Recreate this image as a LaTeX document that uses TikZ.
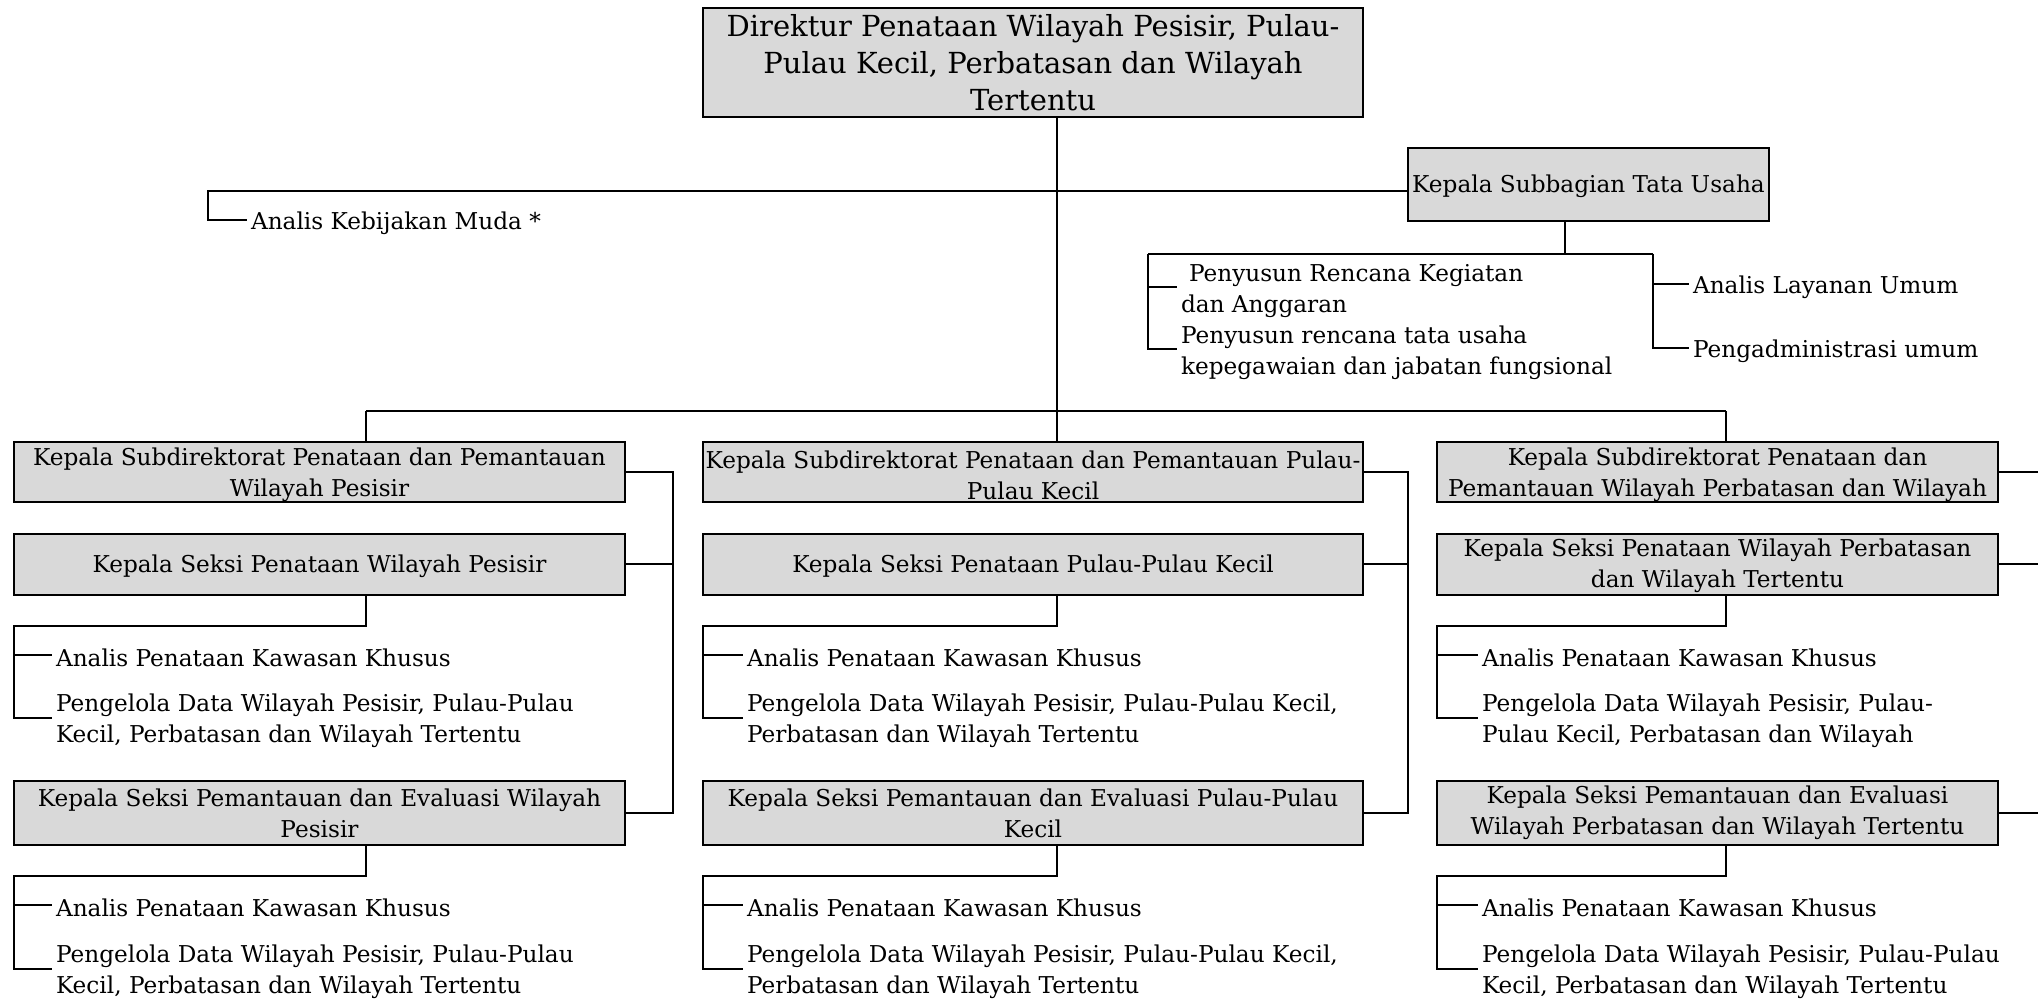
\documentclass[tikz,border=0pt]{standalone}
\usepackage{fontspec}
\setmainfont{DejaVu Serif}
\definecolor{boxgray}{HTML}{D9D9D9}
\newcommand\orgbody{\fontsize{23.2}{31.2}\selectfont}
\newcommand\orgtop{\fontsize{29}{37}\selectfont}
% struts that push the first line down a little (label text / box text)
\newcommand\orgdn{\rule{0pt}{23.6pt}}
\newcommand\orgdnb{\rule{0pt}{21.6pt}}
\begin{document}
\begin{tikzpicture}[x=1pt,y=-1pt,
  every node/.style={inner sep=0pt, outer sep=0pt},
  box/.style={draw, line width=2pt, fill=boxgray, align=center, font=\orgbody},
  lbl/.style={anchor=west, align=left, inner xsep=4pt, font=\orgbody},
  conn/.style={line width=2pt},
  thinconn/.style={line width=1.4pt}]
\useasboundingbox (0,0) rectangle (2038,1000);

% boxes
\node[box, font=\orgtop, minimum width=660pt, minimum height=109pt] (dir) at (1033,62.5)
  {Direktur Penataan Wilayah Pesisir, Pulau-\\Pulau Kecil, Perbatasan dan Wilayah\\Tertentu};
\node[box, minimum width=361pt, minimum height=73pt] (tu) at (1588.5,184.5) {\orgdnb Kepala Subbagian Tata Usaha};

\node[box, minimum width=611pt, minimum height=60pt] (A1) at (319.5,472) {\orgdn Kepala Subdirektorat Penataan dan Pemantauan\\Wilayah Pesisir};
\node[box, minimum width=611pt, minimum height=61pt] (A2) at (319.5,564) {\orgdnb Kepala Seksi Penataan Wilayah Pesisir};
\node[box, minimum width=611pt, minimum height=64pt] (A3) at (319.5,813) {Kepala Seksi Pemantauan dan Evaluasi Wilayah\\Pesisir};

\node[box, minimum width=660pt, minimum height=60pt] (B1) at (1033,472) {\orgdn Kepala Subdirektorat Penataan dan Pemantauan Pulau-\\Pulau Kecil};
\node[box, minimum width=660pt, minimum height=61pt] (B2) at (1033,564) {\orgdnb Kepala Seksi Penataan Pulau-Pulau Kecil};
\node[box, minimum width=660pt, minimum height=64pt] (B3) at (1033,813) {Kepala Seksi Pemantauan dan Evaluasi Pulau-Pulau\\Kecil};

\node[box, minimum width=561pt, minimum height=60pt] (C1) at (1717.5,472) {\orgdn Kepala Subdirektorat Penataan dan\\Pemantauan Wilayah Perbatasan dan Wilayah};
\node[box, minimum width=561pt, minimum height=61pt] (C2) at (1717.5,564) {\orgdnb Kepala Seksi Penataan Wilayah Perbatasan\\dan Wilayah Tertentu};
\node[box, minimum width=561pt, minimum height=64pt] (C3) at (1717.5,813) {Kepala Seksi Pemantauan dan Evaluasi\\Wilayah Perbatasan dan Wilayah Tertentu};

% text labels
\node[lbl] (akm) at (247,220) {\orgdn Analis Kebijakan Muda *};
\node[lbl] (psA) at (1177,287.5) {\orgdn\hspace*{8pt}Penyusun Rencana Kegiatan\\dan Anggaran};
\node[lbl] (psB) at (1177,349.5) {\orgdn Penyusun rencana tata usaha\\kepegawaian dan jabatan fungsional};
\node[lbl] (alu) at (1689,284) {\orgdn Analis Layanan Umum};
\node[lbl] (pu) at (1689,348) {\orgdn Pengadministrasi umum};

\node[lbl] (A2a) at (52,655) {\orgdn Analis Penataan Kawasan Khusus};
\node[lbl] (A2p) at (52,718) {\orgdn Pengelola Data Wilayah Pesisir, Pulau-Pulau\\Kecil, Perbatasan dan Wilayah Tertentu};
\node[lbl] (A3a) at (52,905) {\orgdn Analis Penataan Kawasan Khusus};
\node[lbl] (A3p) at (52,969) {\orgdn Pengelola Data Wilayah Pesisir, Pulau-Pulau\\Kecil, Perbatasan dan Wilayah Tertentu};

\node[lbl] (B2a) at (743,655) {\orgdn Analis Penataan Kawasan Khusus};
\node[lbl] (B2p) at (743,718) {\orgdn Pengelola Data Wilayah Pesisir, Pulau-Pulau Kecil,\\Perbatasan dan Wilayah Tertentu};
\node[lbl] (B3a) at (743,905) {\orgdn Analis Penataan Kawasan Khusus};
\node[lbl] (B3p) at (743,969) {\orgdn Pengelola Data Wilayah Pesisir, Pulau-Pulau Kecil,\\Perbatasan dan Wilayah Tertentu};

\node[lbl] (C2a) at (1478,655) {\orgdn Analis Penataan Kawasan Khusus};
\node[lbl] (C2p) at (1478,718) {\orgdn Pengelola Data Wilayah Pesisir, Pulau-\\Pulau Kecil, Perbatasan dan Wilayah};
\node[lbl] (C3a) at (1478,905) {\orgdn Analis Penataan Kawasan Khusus};
\node[lbl] (C3p) at (1478,969) {\orgdn Pengelola Data Wilayah Pesisir, Pulau-Pulau\\Kecil, Perbatasan dan Wilayah Tertentu};

% coordinates
\coordinate (trunk) at (1057,411);
\coordinate (busL) at (366,411);
\coordinate (busR) at (1726,411);
\coordinate (akmC) at (208,191);
\coordinate (tuD) at (1565,254);
\coordinate (tuL) at (1148,254);
\coordinate (tuR) at (1653,254);
\coordinate (brA) at (673,472);
\coordinate (brB) at (1408,472);
\coordinate (brC) at (2038,472);
\coordinate (A2d) at (366,626); \coordinate (A2l) at (14,626);
\coordinate (A3d) at (366,876); \coordinate (A3l) at (14,876);
\coordinate (B2d) at (1057,626); \coordinate (B2l) at (703,626);
\coordinate (B3d) at (1057,876); \coordinate (B3l) at (703,876);
\coordinate (C2d) at (1726,626); \coordinate (C2l) at (1437,626);
\coordinate (C3d) at (1726,876); \coordinate (C3l) at (1437,876);

% connectors
\draw[thinconn] (dir.south -| trunk) -- (B1.north -| trunk);
\draw[conn] (busL) -- (busR);
\draw[conn] (busL) -- (A1.north -| busL);
\draw[conn] (busR) -- (C1.north -| busR);
\draw[conn] (tu.west |- akmC) -- (akmC) |- (akm.west);
\draw[thinconn] (tu.south -| tuD) -- (tuD);
\draw[conn] (tuL) -- (tuR);
\draw[conn] (tuL) |- (psA.west);
\draw[conn] (tuL) |- (psB.west);
\draw[conn] (tuR) |- (alu.west);
\draw[conn] (tuR) |- (pu.west);

\draw[conn] (A1.east) -- (A1.east -| brA) -- (A3.east -| brA) -- (A3.east);
\draw[conn] (A2.east) -- (A2.east -| brA);
\draw[conn] (B1.east) -- (B1.east -| brB) -- (B3.east -| brB) -- (B3.east);
\draw[conn] (B2.east) -- (B2.east -| brB);
\draw[conn] (C1.east) -- (C1.east -| brC);
\draw[conn] (C2.east) -- (C2.east -| brC);
\draw[conn] (C3.east) -- (C3.east -| brC);

\draw[conn] (A2.south -| A2d) -- (A2d) -- (A2l) |- (A2p.west);
\draw[conn] (A2l) |- (A2a.west);
\draw[conn] (A3.south -| A3d) -- (A3d) -- (A3l) |- (A3p.west);
\draw[conn] (A3l) |- (A3a.west);
\draw[conn] (B2.south -| B2d) -- (B2d) -- (B2l) |- (B2p.west);
\draw[conn] (B2l) |- (B2a.west);
\draw[conn] (B3.south -| B3d) -- (B3d) -- (B3l) |- (B3p.west);
\draw[conn] (B3l) |- (B3a.west);
\draw[conn] (C2.south -| C2d) -- (C2d) -- (C2l) |- (C2p.west);
\draw[conn] (C2l) |- (C2a.west);
\draw[conn] (C3.south -| C3d) -- (C3d) -- (C3l) |- (C3p.west);
\draw[conn] (C3l) |- (C3a.west);
\end{tikzpicture}
\end{document}
